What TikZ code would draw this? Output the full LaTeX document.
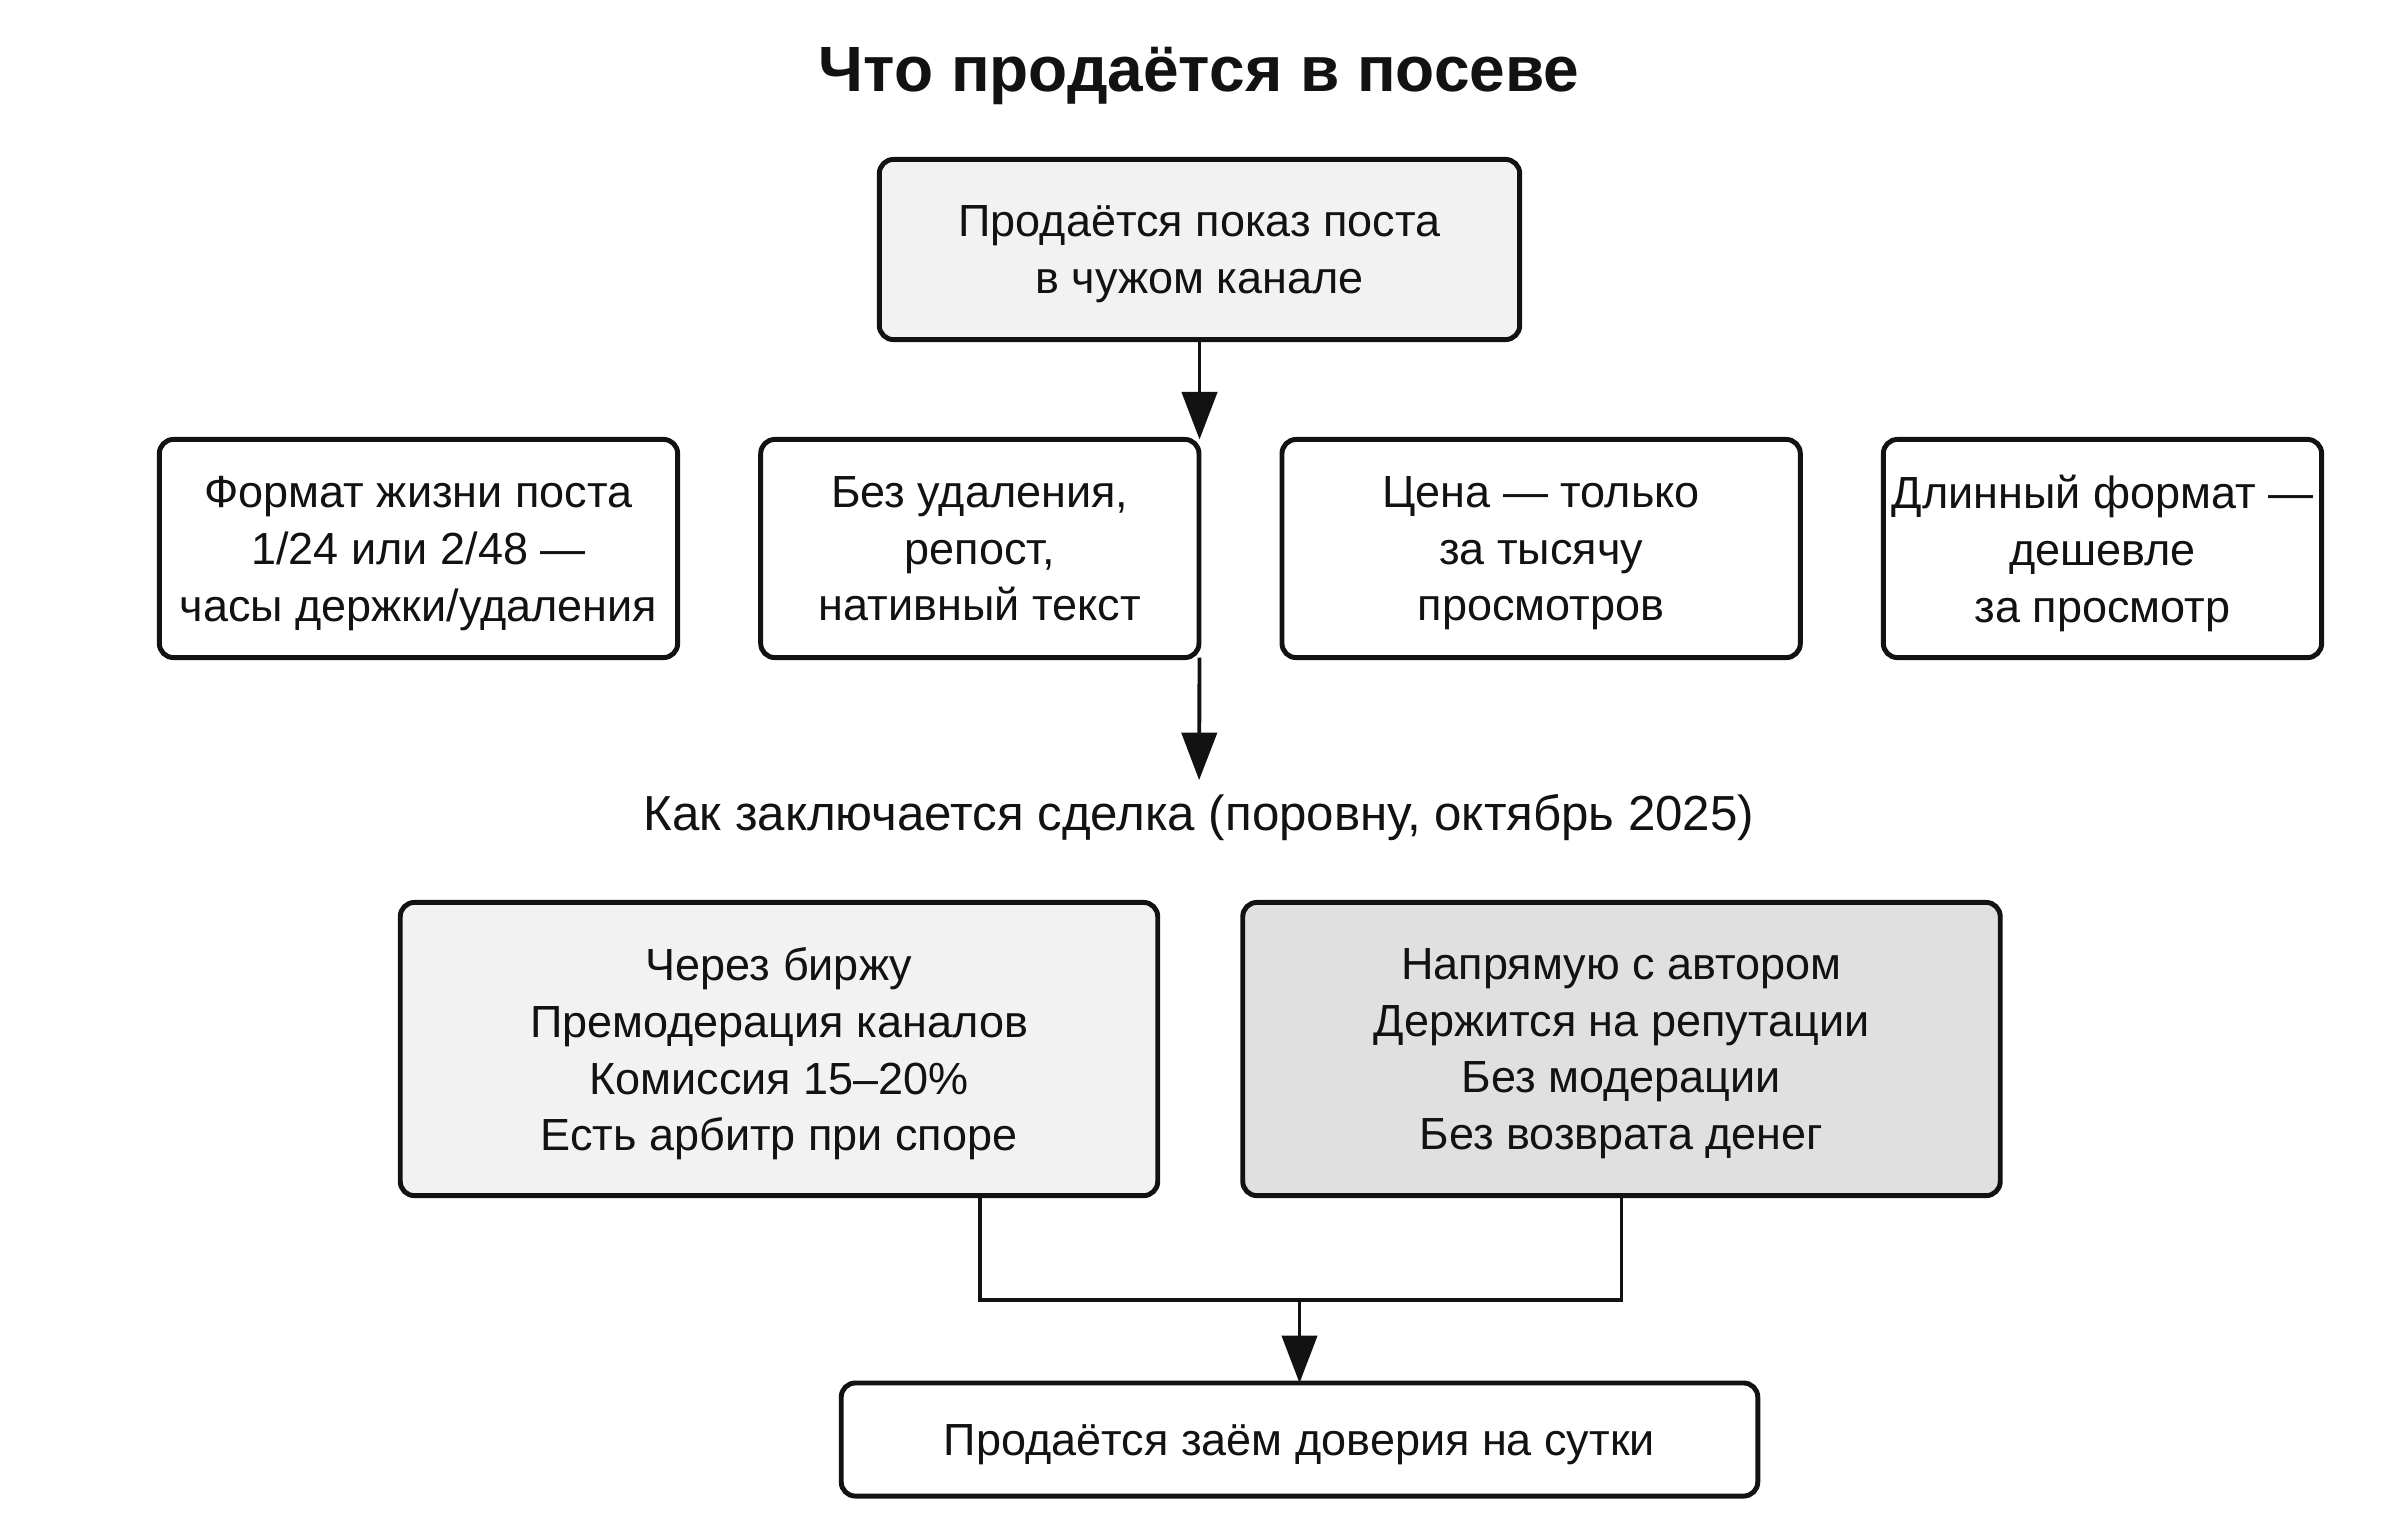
\documentclass[tikz,border=0pt]{standalone}
\usepackage{fontspec}
\setmainfont{Liberation Sans}
\usetikzlibrary{arrows.meta,positioning,calc}

\begin{document}
\begin{tikzpicture}[
		x=0.01cm, y=-0.01cm,
		basic/.style  = {draw=black!93, line width=1.4pt, rounded corners=4pt, align=center, inner sep=0pt, outer sep=0pt, text depth=0pt, text=black!93, font=\fontsize{12.8}{16.2}\selectfont},
		head/.style   = {basic, fill=black!5, minimum width=6.40cm, minimum height=1.8cm},
		fact/.style   = {basic, minimum height=2.18cm},
		way/.style    = {basic, minimum width=7.57cm, minimum height=2.93cm},
		result/.style = {basic, minimum width=9.16cm, minimum height=1.13cm},
		link/.style   = {draw=black!93, line width=1.1pt},
		node distance = 0.83cm,
		>={Triangle[length=13.5pt, width=10pt]}]
		
		\useasboundingbox (0,0) rectangle (2400,1520);
		
		% Title and the first box
		\node[text=black!93, font=\fontsize{18.2}{22}\selectfont\bfseries] (title) at (1199,76) {Что продаётся в посеве};
		\node[head] (top) at (1199.5,249.5) {Продаётся показ поста\\в чужом канале};
		
		% Row of facts, relatively positioned nodes
		\node[fact, minimum width=5.18cm] (f1) at (418.5,548.5) {Формат жизни поста\\1/24 или 2/48 —\\часы держки/удаления};
		\node[fact, minimum width=4.38cm, right=of f1] (f2) {Без удаления,\\репост,\\нативный текст};
		\node[fact, minimum width=5.18cm, right=of f2] (f3) {Цена — только\\за тысячу\\просмотров};
		\node[fact, minimum width=4.38cm, right=of f3] (f4) {Длинный формат —\\дешевле\\за просмотр};
		
		\node[text=black!93, inner xsep=2.5pt, inner ysep=4pt, font=\fontsize{14}{17}\selectfont] (deal) at (1199,818) {Как заключается сделка (поровну, октябрь 2025)};
		
		% Two ways of the deal
		\node[way, fill=black!5] (w1) at (779,1049) {Через биржу\\Премодерация каналов\\Комиссия 15–20\%\\Есть арбитр при споре};
		\node[way, fill=black!12, right=0.85cm of w1] (w2) {Напрямую с автором\\Держится на репутации\\Без модерации\\Без возврата денег};
		
		\node[result] (res) at (1299.5,1439.5) {Продаётся заём доверия на сутки};
		
		% Lines between the levels
		\draw[link,->] (top) -- (top |- f2.north);
		\draw[link,->] (top |- f2.south) -- (deal);
		
		\coordinate (join) at ($(res.north)+(0,-83)$);
		\draw[link] (w1.south -| f2) |- (join) -| (w2.south);
		\draw[link,->] (join) -- (res);
		
	\end{tikzpicture}
\end{document}
